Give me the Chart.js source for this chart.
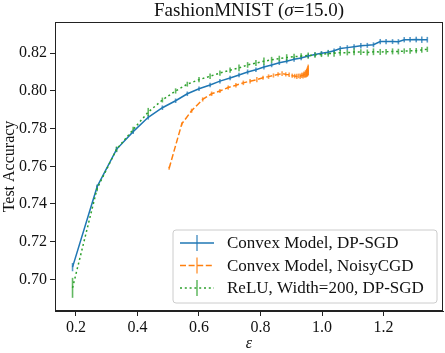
<!DOCTYPE html>
<html>
<head>
<meta charset="utf-8">
<script src="https://cdn.jsdelivr.net/npm/chart.js@4.4.1/dist/chart.umd.min.js"></script>
<style>
  html, body { margin: 0; padding: 0; background: #fff; }
  #chart { display: block; }
</style>
</head>
<body>
<canvas id="chart" width="445" height="353"></canvas>
<script>
// Data
const epsDpsgd = [0.189, 0.269, 0.332, 0.386, 0.435, 0.481, 0.524, 0.562, 0.600, 0.636,
    0.668, 0.701, 0.730, 0.758, 0.785, 0.811, 0.836, 0.861, 0.885, 0.909,
    0.932, 0.955, 0.977, 0.998, 1.020, 1.039, 1.059, 1.082, 1.104, 1.126,
    1.147, 1.167, 1.189, 1.208, 1.229, 1.248, 1.267, 1.286, 1.306, 1.324, 1.342];

const accConvexDpsgd = [0.7065, 0.7492, 0.7690, 0.7784, 0.7860, 0.7911, 0.7948, 0.7985, 0.8012, 0.8032,
    0.8052, 0.8069, 0.8085, 0.8101, 0.8113, 0.8127, 0.8138, 0.8150, 0.8158, 0.8168,
    0.8175, 0.8185, 0.8193, 0.8200, 0.8205, 0.8213, 0.8225, 0.8230, 0.8235, 0.8240,
    0.8242, 0.8245, 0.8262, 0.8262, 0.8262, 0.8261, 0.8272, 0.8272, 0.8273, 0.8272, 0.8272];
const errConvexDpsgd = [0.0022, 0.0012, 0.0013, 0.0012, 0.0012, 0.0012, 0.0012, 0.0012, 0.0012, 0.0012,
    0.0012, 0.0012, 0.0012, 0.0013, 0.0012, 0.0013, 0.0012, 0.0012, 0.0012, 0.0013,
    0.0012, 0.0012, 0.0012, 0.0012, 0.0013, 0.0012, 0.0013, 0.0013, 0.0013, 0.0014,
    0.0013, 0.0013, 0.0014, 0.0014, 0.0013, 0.0014, 0.0014, 0.0014, 0.0015, 0.0017, 0.0015];

const accReluDpsgd = [0.6955, 0.7483, 0.7690, 0.7795, 0.7888, 0.7952, 0.8000, 0.8036, 0.8060, 0.8078,
    0.8095, 0.8110, 0.8122, 0.8138, 0.8148, 0.8158, 0.8165, 0.8172, 0.8177, 0.8182,
    0.8185, 0.8188, 0.8191, 0.8194, 0.8198, 0.8200, 0.8203, 0.8203, 0.8207, 0.8206,
    0.8204, 0.8208, 0.8207, 0.8208, 0.8210, 0.8209, 0.8212, 0.8213, 0.8214, 0.8218, 0.8221];
const errReluDpsgd = [0.0053, 0.0015, 0.0015, 0.0015, 0.0022, 0.0013, 0.0014, 0.0013, 0.0014, 0.0014,
    0.0014, 0.0014, 0.0018, 0.0015, 0.0016, 0.0020, 0.0016, 0.0015, 0.0018, 0.0016,
    0.0015, 0.0016, 0.0015, 0.0014, 0.0016, 0.0018, 0.0016, 0.0014, 0.0018, 0.0015,
    0.0016, 0.0018, 0.0016, 0.0015, 0.0016, 0.0015, 0.0014, 0.0015, 0.0014, 0.0015, 0.0014];

const epsNoisyCgd = [0.503, 0.544, 0.576, 0.612, 0.641, 0.668, 0.695, 0.720, 0.744, 0.766,
    0.788, 0.808, 0.826, 0.842, 0.857, 0.870, 0.882, 0.893, 0.903, 0.911,
    0.918, 0.924, 0.929, 0.934, 0.938, 0.941, 0.944, 0.946, 0.948, 0.950,
    0.951, 0.952, 0.953, 0.954, 0.955];
const accConvexNoisyCgd = [0.7590, 0.7825, 0.7895, 0.7955, 0.7985, 0.8000, 0.8018, 0.8030, 0.8043, 0.8052,
    0.8060, 0.8070, 0.8076, 0.8082, 0.8088, 0.8092, 0.8088, 0.8086, 0.8081, 0.8079,
    0.8077, 0.8080, 0.8078, 0.8083, 0.8081, 0.8088, 0.8085, 0.8092, 0.8090, 0.8097,
    0.8095, 0.8103, 0.8100, 0.8108, 0.8112];
const errConvexNoisyCgd = [0.0008, 0.0008, 0.0011, 0.0011, 0.0012, 0.0011, 0.0011, 0.0012, 0.0012, 0.0012,
    0.0014, 0.0011, 0.0012, 0.0011, 0.0011, 0.0012, 0.0011, 0.0012, 0.0011, 0.0012,
    0.0014, 0.0012, 0.0014, 0.0014, 0.0015, 0.0015, 0.0015, 0.0018, 0.0018, 0.0020,
    0.0020, 0.0022, 0.0022, 0.0025, 0.0028];

const seriesLabels = ['Convex Model, DP-SGD', 'Convex Model, NoisyCGD', 'ReLU, Width=200, DP-SGD'];
const seriesColors = ['#1f77b4', '#ff7f0e', '#2ca02c'];
const seriesDashes = [[], [6, 2.6], [2, 2.8]];

const xTickValues = [0.2, 0.4, 0.6, 0.8, 1.0, 1.2];
const yTickValues = [0.70, 0.72, 0.74, 0.76, 0.78, 0.80, 0.82];

const FONT = '"Liberation Serif", "DejaVu Serif", serif';
const TEXT_COLOR = '#111';

function toPoints(xs, ys) {
    return xs.map((x, i) => ({ x: x, y: ys[i] }));
}

const datasets = [
    { x: epsDpsgd, y: accConvexDpsgd, err: errConvexDpsgd },
    { x: epsNoisyCgd, y: accConvexNoisyCgd, err: errConvexNoisyCgd },
    { x: epsDpsgd, y: accReluDpsgd, err: errReluDpsgd }
];

// Vertical error bars, drawn through the chart's own scales
const errorBarPlugin = {
    id: 'errorBars',
    beforeDatasetsDraw(chart) {
        const ctx = chart.ctx;
        const xs = chart.scales.x;
        const ys = chart.scales.y;
        ctx.save();
        datasets.forEach((ds, k) => {
            ctx.strokeStyle = seriesColors[k];
            ctx.globalAlpha = 0.75;
            ctx.lineWidth = 1.6;
            ctx.setLineDash([]);
            ds.x.forEach((xv, i) => {
                const px = xs.getPixelForValue(xv);
                ctx.beginPath();
                ctx.moveTo(px, ys.getPixelForValue(ds.y[i] - ds.err[i]));
                ctx.lineTo(px, ys.getPixelForValue(ds.y[i] + ds.err[i]));
                ctx.stroke();
            });
        });
        ctx.restore();
    }
};

// Frame, title and legend
const decorPlugin = {
    id: 'decor',
    afterDraw(chart) {
        const ctx = chart.ctx;
        const area = chart.chartArea;
        ctx.save();

        // full box around plot
        ctx.strokeStyle = '#222';
        ctx.lineWidth = 1;
        ctx.setLineDash([]);
        ctx.strokeRect(Math.round(area.left) + 0.5, Math.round(area.top) + 0.5,
            Math.round(area.right - area.left) - 1, Math.round(area.bottom - area.top) - 1);

        // title: FashionMNIST (σ=15.0)
        ctx.fillStyle = TEXT_COLOR;
        ctx.textBaseline = 'alphabetic';
        const parts = [
            { t: 'FashionMNIST (', f: '19px ' + FONT },
            { t: 'σ', f: 'italic 19px ' + FONT },
            { t: '=15.0)', f: '19px ' + FONT }
        ];
        let total = 0;
        parts.forEach(p => { ctx.font = p.f; p.w = ctx.measureText(p.t).width; total += p.w; });
        let tx = (area.left + area.right) / 2 - total / 2;
        parts.forEach(p => {
            ctx.font = p.f;
            ctx.textAlign = 'left';
            ctx.fillText(p.t, tx, 16);
            tx += p.w;
        });

        // legend
        const lx = 173, ly = 230, lw = 264, lh = 73, r = 3;
        ctx.beginPath();
        ctx.moveTo(lx + r, ly);
        ctx.arcTo(lx + lw, ly, lx + lw, ly + lh, r);
        ctx.arcTo(lx + lw, ly + lh, lx, ly + lh, r);
        ctx.arcTo(lx, ly + lh, lx, ly, r);
        ctx.arcTo(lx, ly, lx + lw, ly, r);
        ctx.closePath();
        ctx.fillStyle = 'rgba(255,255,255,0.8)';
        ctx.fill();
        ctx.strokeStyle = '#cccccc';
        ctx.lineWidth = 1;
        ctx.stroke();

        const rows = [243, 265.5, 288];
        seriesLabels.forEach((label, k) => {
            const y = rows[k];
            ctx.strokeStyle = seriesColors[k];
            ctx.lineWidth = 1.5;
            ctx.globalAlpha = 1;
            ctx.setLineDash(seriesDashes[k]);
            ctx.beginPath();
            ctx.moveTo(180, y);
            ctx.lineTo(214, y);
            ctx.stroke();
            ctx.setLineDash([]);
            ctx.globalAlpha = 0.75;
            ctx.beginPath();
            ctx.moveTo(197, y - 8);
            ctx.lineTo(197, y + 8);
            ctx.stroke();
            ctx.globalAlpha = 1;
            ctx.fillStyle = TEXT_COLOR;
            ctx.font = '17px ' + FONT;
            ctx.textAlign = 'left';
            ctx.textBaseline = 'middle';
            ctx.fillText(label, 227, y + 1);
        });
        ctx.restore();
    }
};

const ctx = document.getElementById('chart').getContext('2d');
new Chart(ctx, {
    type: 'line',
    data: {
        datasets: datasets.map((ds, k) => ({
            label: seriesLabels[k],
            data: toPoints(ds.x, ds.y),
            borderColor: seriesColors[k],
            borderWidth: 1.5,
            borderDash: seriesDashes[k],
            pointRadius: 0,
            tension: 0,
            fill: false,
            order: 3 - k
        }))
    },
    options: {
        responsive: false,
        devicePixelRatio: 1,
        animation: false,
        layout: { padding: { top: 22, right: 2, left: 0, bottom: 0 } },
        plugins: {
            legend: { display: false },
            tooltip: { enabled: false },
            title: { display: false }
        },
        scales: {
            x: {
                type: 'linear',
                min: 0.132,
                max: 1.393,
                afterBuildTicks: (scale) => { scale.ticks = xTickValues.map(v => ({ value: v })); },
                afterFit: (scale) => { scale.height = 42; },
                ticks: {
                    color: TEXT_COLOR,
                    font: { family: FONT, size: 16 },
                    padding: 2,
                    maxRotation: 0,
                    callback: (v) => Number(v).toFixed(1)
                },
                grid: { drawOnChartArea: false, drawTicks: true, tickLength: 5, color: '#222' },
                border: { display: true, color: '#222' },
                title: {
                    display: true,
                    text: 'ε',
                    color: TEXT_COLOR,
                    font: { family: FONT, size: 16, style: 'italic', lineHeight: 1.1 },
                    padding: { top: 0, bottom: 0 }
                }
            },
            y: {
                type: 'linear',
                min: 0.6832,
                max: 0.8366,
                afterBuildTicks: (scale) => { scale.ticks = yTickValues.map(v => ({ value: v })); },
                afterFit: (scale) => { scale.width = 55; },
                ticks: {
                    color: TEXT_COLOR,
                    font: { family: FONT, size: 16 },
                    padding: 3,
                    callback: (v) => Number(v).toFixed(2)
                },
                grid: { drawOnChartArea: false, drawTicks: true, tickLength: 5, color: '#222' },
                border: { display: true, color: '#222' },
                title: {
                    display: true,
                    text: 'Test Accuracy',
                    color: TEXT_COLOR,
                    font: { family: FONT, size: 16, lineHeight: 1.1 },
                    padding: { top: 1, bottom: 0 }
                }
            }
        }
    },
    plugins: [errorBarPlugin, decorPlugin]
});
</script>
</body>
</html>
